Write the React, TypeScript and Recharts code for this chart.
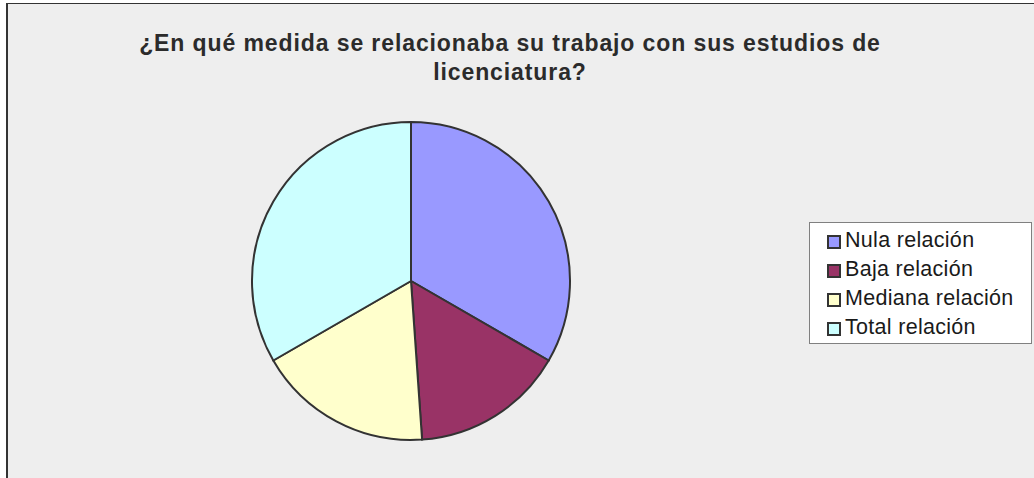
import React from 'react';
import { PieChart, Pie, Cell, Legend } from 'recharts';

const categories = ['Nula relación', 'Baja relación', 'Mediana relación', 'Total relación'];
const values = [15, 7, 8, 15];
const colors = ['#9999FF', '#993366', '#FFFFCC', '#CCFFFF'];
const titleLines = ['¿En qué medida se relacionaba su trabajo con sus estudios de', 'licenciatura?'];

const data = categories.map((name, i) => ({ name, value: values[i] }));

const renderLegend = (props: any) => {
  const payload = [...(props.payload || [])].sort(
    (a: any, b: any) => categories.indexOf(a.value) - categories.indexOf(b.value)
  );
  return (
    <div
      style={{
        width: 221,
        height: 117,
        background: '#FFFFFF',
        border: '1px solid #808080',
        boxSizing: 'content-box',
        paddingTop: 3,
      }}
    >
      {payload.map((entry: any, i: number) => (
        <div
          key={i}
          style={{
            display: 'flex',
            alignItems: 'center',
            height: 29,
            paddingLeft: 17,
            fontFamily: '"Liberation Sans", Arial, sans-serif',
            fontSize: 21.5,
            letterSpacing: 0.3,
            color: '#1a1a1a',
            whiteSpace: 'nowrap',
          }}
        >
          <span
            style={{
              display: 'inline-block',
              width: 10,
              height: 10,
              border: '2px solid #333',
              background: entry.color,
              marginRight: 4,
              marginTop: 3,
            }}
          />
          <span>{entry.value}</span>
        </div>
      ))}
    </div>
  );
};

export default function App() {
  return (
    <div style={{ position: 'absolute', left: 0, top: 0, width: 1034, height: 478, background: '#FFFFFF', overflow: 'hidden' }}>
      <div
        style={{
          position: 'absolute',
          left: 6,
          top: 3,
          width: 1100,
          height: 600,
          background: '#EEEEEE',
          borderLeft: '2px solid #333333',
          borderTop: '1px solid #333333',
        }}
      />
      <svg style={{ position: 'absolute', left: 0, top: 0 }} width={1034} height={478}>
        {titleLines.map((t, i) => (
          <text
            key={i}
            x={510}
            y={51 + i * 29}
            textAnchor="middle"
            fontFamily='"Liberation Sans", Arial, sans-serif'
            fontWeight="bold"
            fontSize={23}
            letterSpacing={0.9}
            fill="#2b2b2b"
          >
            {t}
          </text>
        ))}
      </svg>
      <div style={{ position: 'absolute', left: 0, top: 0 }}>
        <PieChart width={1034} height={478} margin={{ top: 0, right: 0, bottom: 0, left: 0 }}>
          <Pie
            data={data}
            dataKey="value"
            nameKey="name"
            cx={411}
            cy={281}
            outerRadius={159}
            startAngle={90}
            endAngle={-270}
            stroke="#333333"
            strokeWidth={2}
            isAnimationActive={false}
            legendType="square"
          >
            {data.map((d, i) => (
              <Cell key={d.name} fill={colors[i]} />
            ))}
          </Pie>
          <Legend
            content={renderLegend}
            itemSorter={null as any}
            wrapperStyle={{ position: 'absolute', left: 809, top: 222, width: 223, height: 121 }}
          />
        </PieChart>
      </div>
    </div>
  );
}
